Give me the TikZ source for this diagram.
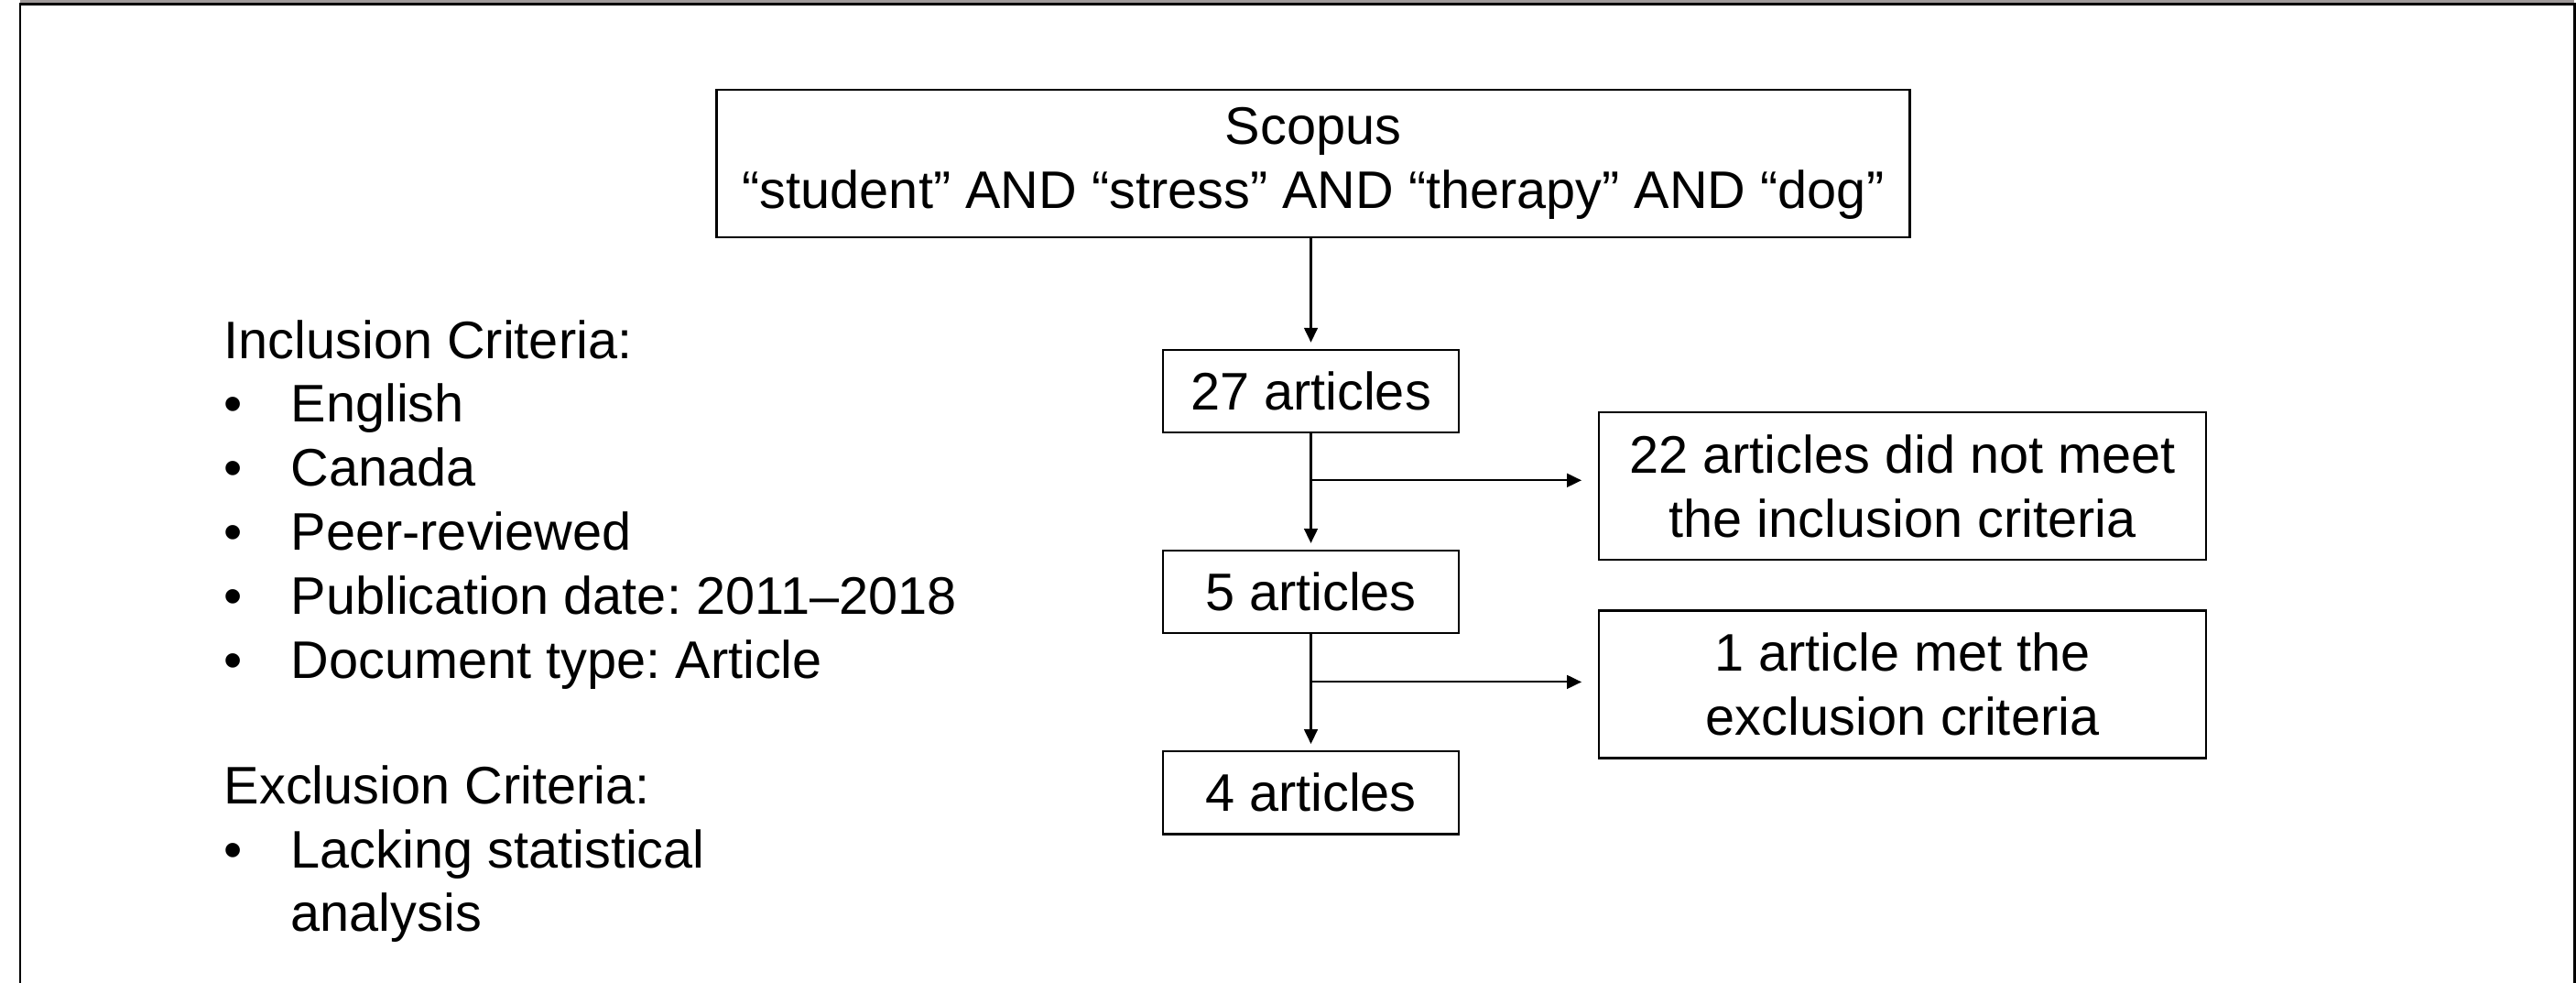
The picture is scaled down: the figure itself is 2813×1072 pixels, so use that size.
\documentclass[tikz,border=0pt]{standalone}
\usepackage{fontspec}
\setmainfont{Liberation Sans}
\usetikzlibrary{positioning,arrows.meta}
\definecolor{stripgray}{RGB}{160,154,154}
\frenchspacing

\begin{document}
\begin{tikzpicture}[x=0.01cm, y=-0.01cm, node distance=2.19cm,
	font=\fontsize{16.4pt}{19.9pt}\selectfont,
	box/.style = {draw, line width=0.7pt, minimum width=3.23cm, minimum height=0.9cm, inner sep=0pt, align=center},
	side/.style = {box, minimum width=6.63cm, minimum height=1.61cm},
	flow/.style = {line width=0.6pt, -{Triangle[width=4.2pt,length=4.5pt]}, shorten >=2pt}]
	\useasboundingbox (0,0) rectangle (2813,1072);
	% frame
	\fill[stripgray] (22,0) rectangle (2811,4);
	\draw[line width=0.85pt] (22,1080) -- (22,4.5) -- (2811.5,4.5) -- (2811.5,1080);

	% criteria
	\node[anchor=base west, inner sep=0pt] (incl) at (244,391) {\begin{tabular}[t]{@{}p{0.73cm}@{}l@{}}
		\multicolumn{2}{@{}l@{}}{Inclusion Criteria:}\\
		\textbullet & English\\
		\textbullet & Canada\\
		\textbullet & Peer-reviewed\\
		\textbullet & Publication date: 2011--2018\\
		\textbullet & Document type: Article
	\end{tabular}};
	\node[anchor=base west, inner sep=0pt] (excl) at (244,877) {\begin{tabular}[t]{@{}p{0.73cm}@{}l@{}}
		\multicolumn{2}{@{}l@{}}{Exclusion Criteria:}\\
		\textbullet & Lacking statistical\\
		& analysis
	\end{tabular}};

	% flow
	\node[box, minimum width=13.02cm, minimum height=1.61cm] (scopus) at (1434,178.5) {Scopus\\“student” AND “stress” AND “therapy” AND “dog”};
	\node[box] (n27) at (1431.5,427) {27 articles};
	\node[box] (n5) [below of = n27] {5 articles};
	\node[box] (n4) [below of = n5] {4 articles};
	\node[side] (ex22) at (2077.5,530.5) {22 articles did not meet\\the inclusion criteria};
	\node[side] (ex1) at (2077.5,747) {1 article met the\\exclusion criteria};

	\coordinate[below=0.51cm of n27.south] (b1);
	\coordinate[below=0.52cm of n5.south] (b2);

	\draw[flow] (scopus.south -| n27.north) -- (n27.north);
	\draw[flow] (n27) -- (n5);
	\draw[flow] (n5) -- (n4);
	\draw[flow, shorten >=5pt] (b1) -- (b1 -| ex22.west);
	\draw[flow, shorten >=5pt] (b2) -- (b2 -| ex1.west);
\end{tikzpicture}
\end{document}
